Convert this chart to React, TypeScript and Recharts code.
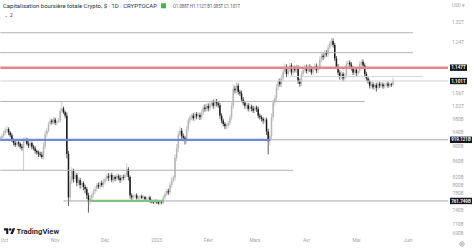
import React from "react";
import {
  ComposedChart,
  Bar,
  XAxis,
  YAxis,
  ReferenceLine,
} from "recharts";

// ===== Données (milliards USD, bougies journalières) =====
const firstOpen = 920;

const closes = [
  925, 930, 938, 946, 950, 940, 932,
  918, 910, 905, 912, 908, 900, 896, 915,
  920, 908, 903, 910, 900, 895, 888, 884,
  880, 878, 872,
  900, 935, 945,
  965, 975, 970, 978, 968, 972, 975,
  1005, 1012, 1000, 990,
  880, 770,
  810, 835, 815, 825, 805, 812, 800, 805, 795, 790,
  775, 760, 768,
  775, 785, 790, 800, 796, 805, 800, 808,
  815, 822, 818, 825, 812, 820, 815, 822, 818, 812, 820, 818, 825,
  840, 820, 775, 770,
  772, 775, 768, 770, 773, 769, 771, 766, 768, 770,
  762, 760, 758, 762, 759, 756, 760, 758,
  770, 778, 785, 782,
  800, 812, 818,
  870, 895, 935, 945,
  930, 925, 918,
  950, 975, 985,
  990, 982, 995, 988, 992, 985,
  1000, 1015, 1010, 1020, 1012,
  1025, 1030, 1020, 1035, 1028, 1022,
  990, 975, 965, 958, 960, 968,
  985, 1020, 1075, 1070,
  1085, 1065, 1060,
  1040, 1030, 1020,
  1022, 1010, 1018, 1012, 1005, 1015, 1010,
  990, 985, 980, 975, 978,
  943, 915, 930, 985, 1030, 1045,
  1080, 1100, 1090, 1110,
  1135, 1150, 1125, 1140, 1155, 1130, 1145, 1138, 1148,
  1100, 1092,
  1125, 1140, 1148, 1135, 1150, 1142, 1130, 1145, 1152, 1138, 1148,
  1175, 1190, 1185, 1200, 1195,
  1220, 1235, 1245, 1230,
  1180, 1150,
  1130, 1115, 1125, 1110, 1120,
  1160, 1165, 1158,
  1145, 1130, 1140, 1128, 1135,
  1160, 1168, 1155,
  1125, 1110, 1100,
  1085, 1090, 1080, 1088, 1078, 1092,
  1085, 1090, 1083, 1088, 1092, 1085, 1090, 1088, 1101,
];

// mèche haute / basse au-delà du corps
const upWick = [
  6, 5, 7, 8, 9, 5, 4, 6, 5, 8, 6, 5, 4, 7, 10, 6, 5, 7, 6, 4,
  5, 6, 4, 5, 6, 8, 12, 10, 7, 6, 8, 5, 7, 6, 5, 8, 9, 22, 6, 5,
  10, 8, 12, 10, 6, 9, 5, 7, 6, 5, 4, 6, 5, 6, 7, 5, 6, 8, 5, 6,
  5, 6, 7, 5, 6, 8, 5, 6, 5, 4, 6, 5, 7, 5, 6, 6, 15, 5, 4, 5,
  4, 3, 5, 4, 3, 4, 5, 3, 4, 3, 4, 3, 4, 5, 3, 4, 3, 4, 5, 6,
  5, 6, 7, 8, 6, 10, 12, 9, 13, 8, 7, 6, 9, 8, 7, 6, 8, 7, 6, 8,
  7, 9, 8, 10, 7, 8, 9, 7, 10, 8, 7, 6, 8, 7, 6, 5, 7, 6, 9, 12,
  15, 10, 12, 8, 7, 9, 8, 6, 8, 7, 9, 6, 8, 7, 6, 8, 7, 6, 5, 7,
  6, 8, 10, 12, 10, 9, 12, 10, 9, 11, 10, 12, 9, 10, 11, 8, 10, 9, 10, 8,
  9, 10, 8, 9, 10, 8, 9, 10, 8, 9, 10, 8, 12, 10, 9, 11, 10, 12, 10, 13,
  10, 8, 9, 10, 8, 9, 7, 8, 10, 9, 8, 9, 7, 8, 9, 8, 10, 9, 8, 7,
  8, 7, 6, 8, 7, 6, 7, 8, 6, 7, 6, 7, 6, 7, 6, 5, 11,
];

const downWick = [
  6, 5, 6, 5, 7, 8, 6, 5, 7, 6, 5, 8, 6, 7, 61, 6, 5, 7, 6, 8,
  5, 7, 6, 8, 6, 5, 7, 6, 8, 5, 6, 7, 5, 6, 8, 5, 6, 7, 5, 8,
  12, 20, 10, 8, 9, 7, 8, 6, 9, 7, 8, 10, 9, 25, 8, 6, 5, 7, 6, 5,
  6, 5, 7, 6, 5, 8, 6, 5, 7, 6, 5, 6, 7, 5, 6, 5, 6, 9, 8, 6,
  4, 5, 3, 4, 5, 3, 4, 5, 3, 4, 5, 4, 3, 5, 4, 3, 5, 4, 3, 5,
  5, 6, 5, 7, 6, 8, 9, 10, 8, 9, 10, 12, 8, 7, 8, 9, 7, 8, 9, 7,
  8, 7, 9, 8, 7, 9, 8, 7, 9, 8, 10, 8, 9, 8, 7, 8, 9, 8, 7, 8,
  9, 10, 8, 9, 8, 7, 8, 9, 8, 7, 8, 9, 7, 8, 9, 8, 7, 8, 9, 8,
  10, 36, 12, 9, 10, 11, 9, 10, 8, 9, 10, 9, 11, 8, 9, 10, 9, 8, 10, 9,
  10, 8, 9, 10, 8, 9, 10, 8, 9, 8, 10, 9, 8, 9, 10, 8, 9, 10, 8, 9,
  10, 9, 8, 10, 9, 8, 10, 9, 8, 9, 10, 8, 9, 8, 10, 9, 8, 9, 10, 8,
  9, 8, 9, 8, 7, 8, 12, 7, 8, 7, 8, 7, 8, 7, 6, 7, 3,
];

// axe du temps (index du jour) et libellés
const monthTicks = [2, 33, 63, 94, 125, 153, 184, 214, 245];
const monthLabels = ["Oct", "Nov", "Déc", "2023", "Févr", "Mars", "Avr", "Mai", "Juin"];

// axe des prix
const priceTicks = [1320, 1240, 1060, 1020, 980, 940, 900, 860, 820, 800, 780, 740, 710, 690];
const levelValues = [1147, 1101, 919.121, 761.749];
const levelLabels = ["1.147T", "1.101T", "919.121B", "761.749B"];

// lignes tracées
const grayLevels = [1277, 1201, 1034, 837];

const candles = closes.map((c, i) => {
  const o = i === 0 ? firstOpen : closes[i - 1];
  const high = Math.max(o, c) + upWick[i];
  const low = Math.min(o, c) - downWick[i];
  return { i, open: o, close: c, high, low, range: [low, high] };
});
const last = candles[candles.length - 1];

const fmtPrice = (v: number) =>
  v >= 1000 ? `${(v / 1000).toFixed(2)}T` : `${Math.round(v)}B`;
const fmtT = (v: number) => `${(v / 1000).toFixed(3)}T`;

const FONT = "Roboto, 'Liberation Sans', sans-serif";

// ===== Bougie =====
const Candle = (props: any) => {
  const { x, y, width, height, payload } = props;
  if (!payload || !isFinite(y) || !isFinite(height)) return null;
  const { open, close, high, low } = payload;
  const top = Math.min(y, y + height);
  const span = Math.abs(height);
  const lh = Math.log(high);
  const ll = Math.log(low);
  const at = (v: number) => top + (span * (lh - Math.log(v))) / (lh - ll);
  const cx = x + width / 2;
  const up = close >= open;
  const color = up ? "#b5b5b5" : "#1c1c1c";
  const y1 = at(Math.max(open, close));
  const y2 = at(Math.min(open, close));
  return (
    <g>
      <line x1={cx} x2={cx} y1={top} y2={top + span} stroke={color} strokeWidth={0.7} />
      <rect x={cx - 0.75} y={y1} width={1.5} height={Math.max(0.8, y2 - y1)} fill={color} />
    </g>
  );
};

const PriceTick = (props: any) => {
  const { y, payload } = props;
  const idx = levelValues.indexOf(payload.value);
  if (idx >= 0) {
    const txt = levelLabels[idx];
    const w = txt.length > 6 ? 22 : 17;
    return (
      <g>
        <rect x={450} y={y - 3.2} width={w} height={6.4} fill="#131722" />
        <text
          x={451.2}
          y={y}
          dy={1.7}
          fontSize={4.8}
          fontFamily={FONT}
          fontWeight={600}
          fill="#ffffff"
          textLength={w - 2.4}
          lengthAdjust="spacingAndGlyphs"
        >
          {txt}
        </text>
      </g>
    );
  }
  return (
    <text x={458} y={y} dy={1.7} textAnchor="middle" fontSize={4.8} fontFamily={FONT} fill="#a3a3a3">
      {fmtPrice(payload.value)}
    </text>
  );
};

const TimeTick = (props: any) => {
  const { x, payload } = props;
  const k = monthTicks.indexOf(payload.value);
  return (
    <text x={Math.max(x, 4.5)} y={242} textAnchor="middle" fontSize={4.8} fontFamily={FONT} fill="#a3a3a3">
      {monthLabels[k]}
    </text>
  );
};

export default function App() {
  const ohlc = `O${fmtT(last.open)} H${fmtT(last.high)} B${fmtT(last.low)} C${fmtT(last.close)}`;
  return (
    <div style={{ position: "absolute", left: 0, top: 0, width: 474, height: 249, background: "#fff" }}>
      <ComposedChart width={474} height={249} data={candles} margin={{ top: 0, right: 0, bottom: 0, left: 0 }}>
        <XAxis
          dataKey="i"
          type="number"
          domain={[-0.2, 269]}
          allowDataOverflow
          ticks={monthTicks}
          interval={0}
          tick={<TimeTick />}
          axisLine={false}
          tickLine={false}
          height={13}
        />
        <YAxis
          orientation="right"
          scale="log"
          domain={[684, 1412]}
          allowDataOverflow
          ticks={[...priceTicks, ...levelValues]}
          interval={0}
          tick={<PriceTick />}
          axisLine={false}
          tickLine={false}
          width={26}
        />
        <ReferenceLine segment={[{ x: 0, y: grayLevels[0] }, { x: 248, y: grayLevels[0] }]} stroke="#b2b2b2" strokeWidth={1} />
        <ReferenceLine segment={[{ x: 0, y: grayLevels[1] }, { x: 248, y: grayLevels[1] }]} stroke="#b2b2b2" strokeWidth={1} />
        <ReferenceLine segment={[{ x: 174, y: 1116 }, { x: 254, y: 1116 }]} stroke="#d4d4d4" strokeWidth={1} />
        <ReferenceLine segment={[{ x: 0, y: levelValues[1] }, { x: 269, y: levelValues[1] }]} stroke="#d2d2d2" strokeWidth={1} />
        <ReferenceLine segment={[{ x: 0, y: grayLevels[2] }, { x: 219, y: grayLevels[2] }]} stroke="#b2b2b2" strokeWidth={1} />
        <ReferenceLine segment={[{ x: 0, y: grayLevels[3] }, { x: 176, y: grayLevels[3] }]} stroke="#b2b2b2" strokeWidth={1} />
        <ReferenceLine segment={[{ x: 162, y: levelValues[2] }, { x: 269, y: levelValues[2] }]} stroke="#a9a9a9" strokeWidth={1} />
        <ReferenceLine segment={[{ x: 38, y: levelValues[3] }, { x: 269, y: levelValues[3] }]} stroke="#a9a9a9" strokeWidth={1} />
        <ReferenceLine segment={[{ x: 0, y: levelValues[0] }, { x: 269, y: levelValues[0] }]} stroke="#e3868b" strokeWidth={2.4} />
        <ReferenceLine segment={[{ x: 0, y: levelValues[2] }, { x: 162, y: levelValues[2] }]} stroke="#6f86d9" strokeWidth={2.2} />
        <ReferenceLine segment={[{ x: 54, y: levelValues[3] }, { x: 98, y: levelValues[3] }]} stroke="#80c283" strokeWidth={2.2} />
        <Bar dataKey="range" barSize={2} shape={<Candle />} isAnimationActive={false} />
      </ComposedChart>

      {/* En-tête, logo, unités */}
      <svg width={474} height={249} style={{ position: "absolute", left: 0, top: 0, pointerEvents: "none" }}>
        <text x={3} y={8} fontSize={6.2} fontFamily={FONT} fill="#2a2e39" textLength={154} lengthAdjust="spacingAndGlyphs">
          Capitalisation boursière totale Crypto, $ · 1D · CRYPTOCAP
        </text>
        <rect x={161} y={3.3} width={5} height={5} fill="#4caf50" />
        <text x={173} y={7.8} fontSize={5.2} fontFamily={FONT} fill="#555" textLength={67} lengthAdjust="spacingAndGlyphs">
          {ohlc}
        </text>
        <text x={4} y={17} fontSize={5} fontFamily="DejaVu Sans" fill="#555">
          ⌄ 2
        </text>
        <text x={452} y={7} fontSize={4.6} fontFamily={FONT} fill="#a3a3a3">
          USD ▾
        </text>
        <g transform="translate(4,227)">
          <path d="M4.3 7H2.2V3.4H0V1.3h4.3z" fill="#131722" />
          <circle cx={6.2} cy={2.5} r={1.2} fill="#131722" />
          <path d="M8.8 7H6.3l2.4-5.7h2.5z" fill="#131722" />
        </g>
        <text x={16.5} y={234} fontSize={7.6} fontWeight={600} fontFamily={FONT} fill="#131722">
          TradingView
        </text>
        <circle cx={462} cy={244} r={2.2} fill="none" stroke="#888" strokeWidth={0.7} />
        <circle cx={462} cy={244} r={0.8} fill="none" stroke="#888" strokeWidth={0.5} />
      </svg>
    </div>
  );
}
